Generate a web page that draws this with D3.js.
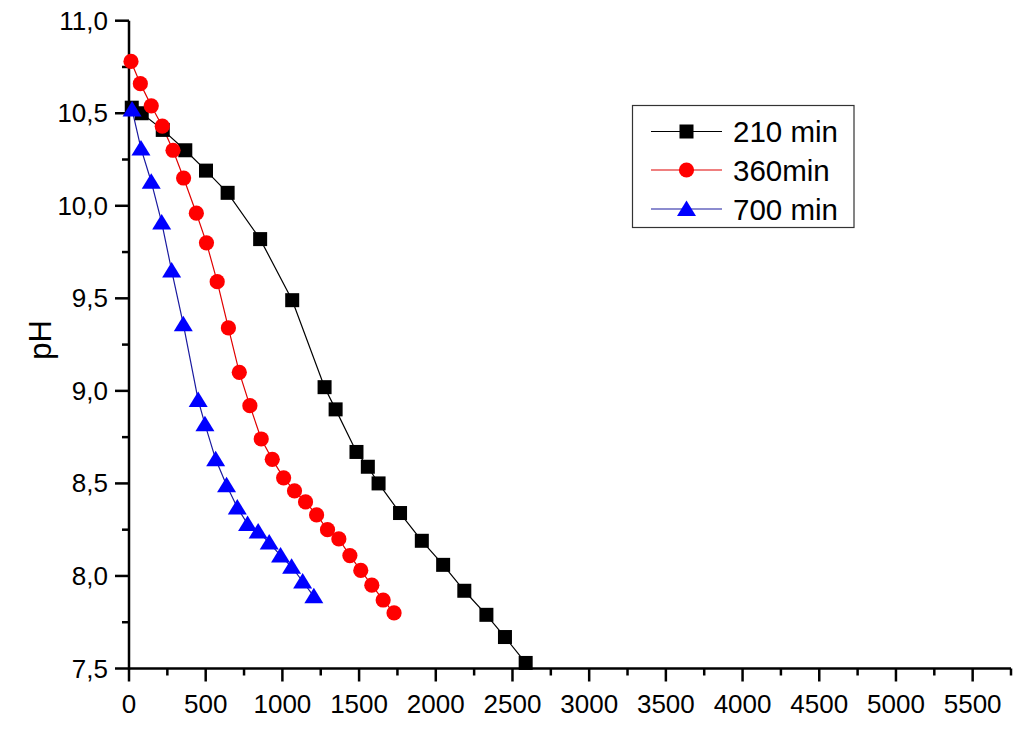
<!DOCTYPE html>
<html>
<head>
<meta charset="utf-8">
<script src="https://cdn.jsdelivr.net/npm/d3@7"></script>
<style>
html,body{margin:0;padding:0;background:#fff;}
svg{display:block;font-family:Arial,"Liberation Sans",sans-serif;}
</style>
</head>
<body>
<svg id="chart" width="1024" height="743"></svg>
<script>
// Data
const s210x = [18, 83, 220, 367, 502, 643, 855, 1064, 1275, 1347, 1483, 1557, 1627, 1767, 1909, 2048, 2186, 2330, 2451, 2586];
const s210y = [10.53, 10.50, 10.41, 10.30, 10.19, 10.07, 9.82, 9.49, 9.02, 8.90, 8.67, 8.59, 8.50, 8.34, 8.19, 8.06, 7.92, 7.79, 7.67, 7.53];
const s360x = [13, 74, 145, 217, 287, 356, 439, 505, 575, 648, 719, 788, 862, 934, 1008, 1079, 1151, 1223, 1294, 1368, 1440, 1511, 1583, 1657, 1728];
const s360y = [10.78, 10.66, 10.54, 10.43, 10.30, 10.15, 9.96, 9.80, 9.59, 9.34, 9.10, 8.92, 8.74, 8.63, 8.53, 8.46, 8.40, 8.33, 8.25, 8.20, 8.11, 8.03, 7.95, 7.87, 7.80];
const s700x = [20, 78, 145, 213, 278, 354, 451, 495, 565, 636, 706, 773, 842, 914, 988, 1060, 1132, 1205];
const s700y = [10.52, 10.31, 10.13, 9.91, 9.65, 9.36, 8.95, 8.82, 8.63, 8.49, 8.37, 8.28, 8.24, 8.18, 8.11, 8.05, 7.97, 7.89];
const seriesNames = ["210 min", "360min", "700 min"];
const xTicks = [0, 500, 1000, 1500, 2000, 2500, 3000, 3500, 4000, 4500, 5000, 5500];
const yTicks = [7.5, 8.0, 8.5, 9.0, 9.5, 10.0, 10.5, 11.0];
const yLabel = "pH";

const svg = d3.select("#chart");
const x = d3.scaleLinear().domain([0, 5750]).range([129, 1011]);
const y = d3.scaleLinear().domain([7.5, 11]).range([668.5, 20.7]);

const fmtY = v => d3.format(".1f")(v).replace(".", ",");

// X axis
const xMinor = d3.range(0, 5751, 250).filter(v => v % 500 !== 0);
const gx = svg.append("g").attr("transform", `translate(0,${y(7.5)})`);
gx.append("line").attr("x1", x(0) - 1).attr("x2", x(5750)).attr("stroke", "#000").attr("stroke-width", 2.5);
gx.selectAll(".maj").data(xTicks).join("line")
  .attr("x1", d => x(d)).attr("x2", d => x(d)).attr("y1", 0).attr("y2", 13)
  .attr("stroke", "#000").attr("stroke-width", 2.5);
gx.selectAll(".min").data(xMinor).join("line").attr("class", "min")
  .attr("x1", d => x(d)).attr("x2", d => x(d)).attr("y1", 0).attr("y2", 7)
  .attr("stroke", "#000").attr("stroke-width", 2.5);
gx.selectAll("text").data(xTicks).join("text")
  .attr("x", d => x(d)).attr("y", 44).attr("text-anchor", "middle")
  .attr("font-size", 26).attr("fill", "#000").text(d => d);

// Y axis
const yMinor = d3.range(7.75, 11, 0.5);
const gy = svg.append("g").attr("transform", `translate(${x(0)},0)`);
gy.append("line").attr("y1", y(11)).attr("y2", y(7.5) + 1).attr("stroke", "#000").attr("stroke-width", 2.5);
gy.selectAll(".maj").data(yTicks).join("line")
  .attr("y1", d => y(d)).attr("y2", d => y(d)).attr("x1", 0).attr("x2", -14)
  .attr("stroke", "#000").attr("stroke-width", 2.5);
gy.selectAll(".min").data(yMinor).join("line").attr("class", "min")
  .attr("y1", d => y(d)).attr("y2", d => y(d)).attr("x1", 0).attr("x2", -7)
  .attr("stroke", "#000").attr("stroke-width", 2.5);
gy.selectAll("text").data(yTicks).join("text")
  .attr("x", -21).attr("y", d => y(d) + 9).attr("text-anchor", "end")
  .attr("font-size", 26).attr("fill", "#000").text(d => fmtY(d));

svg.append("text").attr("transform", "translate(51,340) rotate(-90)")
  .attr("text-anchor", "middle").attr("font-size", 31).attr("fill", "#000").text(yLabel);

// Series
const series = [
  {name: seriesNames[0], xs: s210x, ys: s210y, color: "#000000", line: "#000000", shape: "square"},
  {name: seriesNames[1], xs: s360x, ys: s360y, color: "#ff0000", line: "#e00000", shape: "circle"},
  {name: seriesNames[2], xs: s700x, ys: s700y, color: "#0000ff", line: "#1a1aa0", shape: "triangle"}
];

function marker(g, shape, cx, cy, color) {
  if (shape === "square") {
    g.append("rect").attr("x", cx - 7).attr("y", cy - 7).attr("width", 14).attr("height", 14).attr("fill", color);
  } else if (shape === "circle") {
    g.append("circle").attr("cx", cx).attr("cy", cy).attr("r", 7.6).attr("fill", color);
  } else {
    const w = 9.5, h = 15.5;
    g.append("path").attr("d", `M${cx},${cy - h * 0.55}L${cx + w},${cy + h * 0.45}L${cx - w},${cy + h * 0.45}Z`).attr("fill", color);
  }
}

series.forEach(s => {
  const pts = s.xs.map((v, i) => [v, s.ys[i]]);
  svg.append("path").datum(pts)
    .attr("d", d3.line().x(d => x(d[0])).y(d => y(d[1])))
    .attr("fill", "none").attr("stroke", s.line).attr("stroke-width", 1.2);
});
series.forEach(s => {
  const g = svg.append("g");
  s.xs.forEach((v, i) => marker(g, s.shape, x(v), y(s.ys[i]), s.color));
});

// Legend
const leg = svg.append("g");
leg.append("rect").attr("x", 632.5).attr("y", 105.5).attr("width", 221.5).attr("height", 122)
  .attr("fill", "#fff").attr("stroke", "#333").attr("stroke-width", 1.2);
const rowY = [131.5, 170, 209];
series.forEach((s, i) => {
  leg.append("line").attr("x1", 651).attr("x2", 722).attr("y1", rowY[i]).attr("y2", rowY[i])
    .attr("stroke", s.line).attr("stroke-width", 1.2);
  marker(leg, s.shape, 686.5, rowY[i], s.color);
  leg.append("text").attr("x", 733).attr("y", rowY[i] + 10.5).attr("font-size", 29.5)
    .attr("fill", "#000").text(s.name);
});
</script>
</body>
</html>
